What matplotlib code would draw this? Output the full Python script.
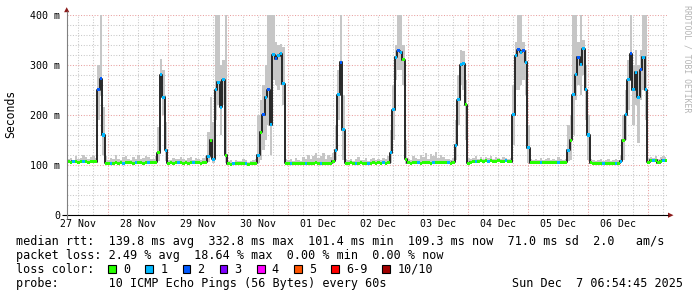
import numpy as np
import matplotlib
matplotlib.use("Agg")
import matplotlib.pyplot as plt
from matplotlib.patches import Rectangle, Polygon

# ---------------- data ----------------
# hourly samples; hours counted from 27 Nov 00:00, first sample 27 Nov 08:00
first_hour = 8
median_ms = [
    # 27 Nov 08-23
    107, 106, 108, 107, 106, 107, 108, 107, 106, 107, 108, 107, 250, 272, 160, 104,
    # 28 Nov
    104, 103, 104, 105, 104, 105, 104, 105, 106, 105, 104, 105, 106, 105, 104, 105, 106, 105, 105, 106, 125, 280, 235, 130,
    # 29 Nov
    104, 105, 104, 105, 106, 105, 104, 105, 104, 105, 105, 106, 105, 104, 105, 106, 118, 150, 112, 250, 265, 215, 270, 120,
    # 30 Nov
    103, 102, 103, 104, 103, 103, 104, 103, 102, 103, 104, 104, 120, 165, 200, 235, 250, 180, 320, 312, 318, 322, 262, 104,
    # 01 Dec
    103, 104, 103, 104, 103, 104, 104, 103, 104, 103, 104, 105, 104, 103, 104, 103, 104, 104, 108, 130, 240, 305, 170, 104,
    # 02 Dec
    104, 105, 104, 103, 104, 105, 104, 104, 103, 104, 105, 104, 105, 104, 105, 104, 105, 125, 210, 315, 328, 325, 310, 112,
    # 03 Dec
    105, 104, 105, 106, 105, 104, 105, 106, 105, 104, 105, 106, 105, 106, 105, 106, 105, 104, 106, 140, 230, 300, 302, 220,
    # 04 Dec
    104, 106, 107, 108, 108, 109, 108, 109, 108, 109, 108, 108, 109, 108, 108, 109, 108, 107, 200, 318, 330, 325, 328, 305,
    # 05 Dec
    135, 105, 106, 105, 106, 106, 105, 106, 105, 106, 106, 105, 106, 105, 106, 106, 130, 150, 240, 280, 315, 300, 332, 250,
    # 06 Dec
    160, 105, 104, 103, 104, 104, 103, 104, 104, 103, 104, 104, 104, 108, 150, 200, 270, 322, 250, 285, 235, 290, 315, 250,
    # 07 Dec 00-07
    106, 110, 109, 110, 105, 108, 110, 109,
]
smoke_hi_ms = [
    113, 115, 111, 118, 112, 114, 120, 116, 112, 117, 119, 115, 300, 400, 215, 118,
    110, 114, 112, 121, 113, 111, 116, 119, 112, 110, 117, 113, 120, 112, 115, 118, 116, 113, 112, 118, 175, 312, 290, 185,
    111, 110, 114, 112, 113, 117, 112, 110, 114, 116, 111, 115, 113, 110, 114, 118, 165, 235, 185, 400, 400, 300, 310, 400,
    108, 110, 107, 111, 109, 108, 112, 110, 107, 109, 111, 112, 200, 230, 260, 300, 400, 400, 400, 345, 340, 342, 335, 112,
    110, 112, 108, 115, 111, 109, 116, 113, 121, 112, 118, 124, 114, 119, 125, 113, 120, 117, 125, 180, 290, 400, 240, 112,
    110, 113, 109, 112, 116, 111, 110, 114, 109, 112, 115, 110, 113, 111, 114, 112, 118, 170, 260, 340, 400, 400, 340, 150,
    112, 110, 118, 114, 112, 120, 116, 124, 113, 122, 118, 126, 115, 121, 117, 113, 112, 110, 115, 190, 280, 330, 328, 270,
    115, 112, 114, 118, 113, 116, 112, 117, 114, 119, 113, 116, 115, 112, 117, 114, 113, 115, 260, 345, 400, 400, 345, 330,
    180, 112, 110, 113, 111, 115, 110, 112, 114, 110, 113, 111, 116, 112, 110, 112, 180, 200, 400, 400, 345, 400, 350, 300,
    200, 112, 110, 108, 111, 113, 109, 110, 112, 108, 110, 113, 111, 120, 200, 250, 310, 400, 300, 330, 300, 330, 400, 400,
    114, 117, 115, 118, 112, 116, 118, 116,
]
smoke_lo_ms = [
    105, 104, 106, 105, 104, 105, 106, 105, 104, 105, 106, 105, 190, 240, 120, 102,
    102, 101, 102, 103, 102, 103, 102, 103, 104, 103, 102, 103, 104, 103, 102, 103, 104, 103, 103, 104, 108, 250, 200, 108,
    102, 103, 102, 103, 104, 103, 102, 103, 102, 103, 103, 104, 103, 102, 103, 104, 106, 115, 104, 190, 220, 160, 220, 104,
    101, 100, 101, 102, 101, 101, 102, 101, 100, 101, 102, 102, 105, 110, 130, 150, 180, 120, 270, 260, 250, 260, 220, 102,
    101, 102, 101, 102, 101, 102, 102, 101, 102, 101, 102, 103, 102, 101, 102, 101, 102, 102, 104, 110, 190, 260, 110, 102,
    102, 103, 102, 101, 102, 103, 102, 102, 101, 102, 103, 102, 103, 102, 103, 102, 103, 105, 150, 270, 290, 290, 260, 103,
    103, 102, 103, 104, 103, 102, 103, 104, 103, 102, 103, 104, 103, 104, 103, 104, 103, 102, 104, 110, 180, 260, 250, 150,
    102, 104, 105, 106, 106, 107, 106, 107, 106, 107, 106, 106, 107, 106, 106, 107, 106, 105, 140, 250, 250, 260, 270, 240,
    105, 103, 104, 103, 104, 104, 103, 104, 103, 104, 104, 103, 104, 103, 104, 104, 108, 110, 160, 230, 260, 240, 280, 190,
    110, 103, 102, 101, 102, 102, 101, 102, 102, 101, 102, 102, 102, 104, 110, 150, 210, 270, 180, 220, 145, 230, 250, 190,
    104, 108, 107, 108, 103, 106, 108, 107,
]
loss_count = [
    0, 0, 1, 0, 0, 0, 1, 0, 0, 0, 0, 0, 2, 2, 1, 0,
    0, 1, 0, 0, 0, 0, 1, 0, 0, 0, 0, 1, 0, 0, 0, 0, 1, 0, 0, 0, 0, 1, 1, 1,
    0, 0, 0, 0, 1, 0, 0, 0, 0, 0, 1, 0, 0, 0, 0, 0, 1, 0, 1, 1, 1, 1, 1, 0,
    0, 0, 1, 0, 0, 0, 0, 1, 0, 0, 0, 0, 1, 0, 2, 1, 2, 1, 1, 2, 1, 1, 1, 0,
    0, 1, 0, 0, 0, 0, 0, 1, 0, 0, 0, 0, 0, 1, 0, 0, 0, 0, 0, 1, 1, 2, 1, 0,
    0, 0, 0, 1, 0, 0, 0, 0, 1, 0, 0, 0, 0, 0, 1, 0, 0, 1, 1, 1, 2, 1, 0, 0,
    0, 0, 0, 0, 1, 0, 0, 0, 0, 0, 1, 0, 0, 0, 0, 0, 1, 0, 0, 1, 1, 1, 1, 0,
    0, 0, 0, 1, 0, 0, 0, 0, 1, 0, 0, 0, 0, 0, 0, 1, 0, 0, 1, 1, 2, 1, 2, 1,
    1, 0, 0, 0, 0, 1, 0, 0, 0, 0, 0, 0, 1, 0, 0, 0, 1, 0, 1, 1, 2, 1, 1, 1,
    1, 0, 0, 0, 0, 0, 1, 0, 0, 0, 0, 1, 0, 1, 0, 1, 1, 2, 1, 1, 1, 2, 1, 1,
    0, 0, 1, 0, 0, 0, 1, 0,
]

day_labels = ["27 Nov", "28 Nov", "29 Nov", "30 Nov", "01 Dec",
              "02 Dec", "03 Dec", "04 Dec", "05 Dec", "06 Dec"]
y_tick_values = [0, 100, 200, 300, 400]
y_tick_labels = ["0", "100 m", "200 m", "300 m", "400 m"]
loss_labels = ["0", "1", "2", "3", "4", "5", "6-9", "10/10"]
loss_colors = ["#26ff00", "#00b8ff", "#0059ff", "#7e00ff",
               "#ff00ff", "#ff5500", "#ff0000", "#a10000"]

stats_rtt = ("median rtt:  139.8 ms avg  332.8 ms max  101.4 ms min  "
             "109.3 ms now  71.0 ms sd  2.0   am/s")
stats_loss = "packet loss: 2.49 % avg  18.64 % max  0.00 % min  0.00 % now"
probe_text = "probe:       10 ICMP Echo Pings (56 Bytes) every 60s"
stamp_text = "Sun Dec  7 06:54:45 2025"

# ---------------- figure ----------------
plt.rcParams['font.family'] = ['DejaVu Sans Mono']
W, H = 697, 297
fig = plt.figure(figsize=(W / 100, H / 100), dpi=100)
fig.patch.set_facecolor('white')

L, R, T, B = 66.7, 666.7, 14.7, 215.2
ax = fig.add_axes([L / W, 1 - B / H, (R - L) / W, (B - T) / H])
x_start = 7.37
ax.set_xlim(x_start, x_start + 240)
ax.set_ylim(0, 400)
for s in ax.spines.values():
    s.set_visible(False)
ax.set_facecolor('white')

hours = first_hour + np.arange(len(median_ms))
med = np.array(median_ms, dtype=float)
hi = np.array(smoke_hi_ms, dtype=float)
lo = np.array(smoke_lo_ms, dtype=float)

dots = (0, (1, 1.6))
for h in np.arange(np.ceil(x_start / 6) * 6, x_start + 240, 6):
    major = (h % 24 == 0)
    ax.axvline(h, color='#e8a0a0' if major else '#c8c8c8', lw=0.75, ls=dots, zorder=0)
for v in range(20, 401, 20):
    major = (v % 100 == 0)
    ax.axhline(v, color='#e8a0a0' if major else '#c8c8c8', lw=0.75, ls=dots, zorder=0)

ax.fill_between(hours, lo, hi, step='mid', color='#c6c6c6', lw=0, zorder=1)
ax.plot(hours, med, drawstyle='steps-mid', color='#202020', lw=1.35, zorder=2)


def loss_index(c):
    if c <= 5:
        return c
    if c < 10:
        return 6
    return 7


cols = [loss_colors[loss_index(c)] for c in loss_count]
ax.bar(hours, 6.0, bottom=med - 3.0, width=1.0, color=cols, lw=0, zorder=3)

ax.set_xticks(np.arange(12, 240, 24), day_labels)
ax.set_yticks(y_tick_values, y_tick_labels)
ax.tick_params(axis='x', length=0, pad=3.0, labelsize=7.1, colors='#000000')
ax.tick_params(axis='y', length=0, pad=4.8, labelsize=7.2, colors='#000000')

# ---------------- overlay (pixel coordinates) ----------------
ov = fig.add_axes([0, 0, 1, 1])
ov.set_xlim(0, W)
ov.set_ylim(H, 0)
ov.axis('off')
ov.patch.set_visible(False)

ov.plot([62, 668], [B, B], color='black', lw=0.8, solid_capstyle='butt')
ov.plot([L, L], [B + 4, 11], color='#808080', lw=0.8, solid_capstyle='butt')
ov.add_patch(Polygon([[668, 212.6], [673.5, B], [668, 217.8]], closed=True,
                     facecolor='#8b1a1a', edgecolor='none'))
ov.add_patch(Polygon([[64.1, 12.2], [L, 7.2], [69.3, 12.2]], closed=True,
                     facecolor='#8b1a1a', edgecolor='none'))

ov.text(11, 114, "Seconds", rotation=90, ha='center', va='center', fontsize=8.3)
ov.text(686.5, 5, "RRDTOOL / TOBI OETIKER", rotation=270, ha='center', va='top',
        fontsize=5.9, color='#b4b4b4')

fs = 8.5
ov.text(16, 244.6, stats_rtt, ha='left', va='baseline', fontsize=fs)
ov.text(16, 258.6, stats_loss, ha='left', va='baseline', fontsize=fs)
ov.text(16, 272.6, "loss color:", ha='left', va='baseline', fontsize=fs)
ov.text(16, 286.6, probe_text, ha='left', va='baseline', fontsize=fs)
ov.text(683, 286.6, stamp_text, ha='right', va='baseline', fontsize=fs)

char_w = 7.11
bx = 108.3
for lab, col in zip(loss_labels, loss_colors):
    ov.add_patch(Rectangle((bx, 265.2), 7.8, 7.8, facecolor=col, edgecolor='black', lw=0.8))
    ov.text(bx + 15, 272.6, lab, ha='left', va='baseline', fontsize=fs)
    bx += 15 + len(lab) * char_w + 15

fig.savefig("out.png", dpi=100, facecolor='white')
